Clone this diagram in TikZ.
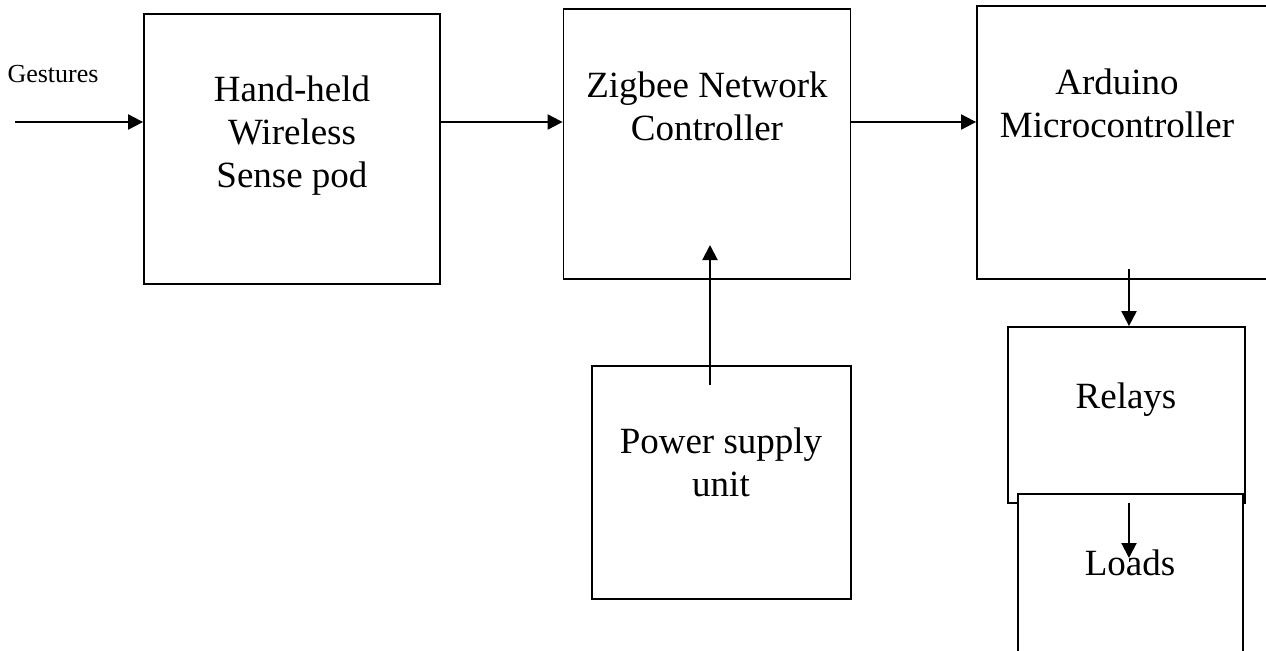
\documentclass[tikz,border=0pt]{standalone}
\usepackage{fontspec}
\setmainfont{Liberation Serif}
\usetikzlibrary{arrows.meta, positioning}

\begin{document}
\begin{tikzpicture}[x=0.5pt, y=-0.5pt, >={Triangle[length=7.5pt, width=7.5pt]},
    box/.style={draw, line width=0.9pt, fill=white},
    lbl/.style={inner sep=0pt, align=center, font=\fontsize{18.5}{21.5}\selectfont},
    arr/.style={->, line width=1pt}]
        \useasboundingbox (0,0) rectangle (1266,650);

        % Blocks
        \node[box, minimum width=148pt, minimum height=135pt] (hand) at (292,149) {};
        \node[box, minimum width=143.5pt, minimum height=134.75pt] (zig) at (707,144) {};
        \node[box, minimum width=145.5pt, minimum height=136.5pt] (ard) at (1122.5,142.5) {};
        \node[box, minimum width=129.5pt, minimum height=116.5pt] (psu) at (721.5,482.5) {};
        \node[box, minimum width=118.5pt, minimum height=88pt] (relay) at (1126.5,415) {};
        \node[box, minimum width=112.5pt, minimum height=83pt] (load) at (1130.5,577) {};

        % Block labels
        \node[lbl] (handtxt) at (292,136) {Hand-held\\Wireless\\Sense pod};
        \node[lbl] (zigtxt) at (707,106) {Zigbee Network\\Controller};
        \node[lbl] (ardtxt) at (1117,103) {Arduino\\Microcontroller};
        \node[lbl] (psutxt) at (721,462.5) {Power supply\\unit};
        \node[lbl] (relaytxt) at (1126,399.5) {Relays};
        \node[lbl] (loadtxt) at (1130,562.5) {Loads};
        \node[inner sep=0pt, font=\fontsize{13}{15}\selectfont] (gest) at (53,74) {Gestures};

        % Signal path
        \coordinate (gin) at (15,122);
        \draw[arr] (gin) -- (gin -| hand.west);
        \draw[arr] (hand.east |- gin) -- (zig.west |- gin);
        \draw[arr] (zig.east |- gin) -- (ard.west |- gin);

        % Power feed
        \coordinate (pfrom) at (710,385);
        \coordinate (pto) at (710,245);
        \draw[arr] (pfrom) -- (pto);

        % Outputs
        \coordinate (aout) at (1129,269);
        \draw[arr] (aout) -- (aout |- relay.north);
        \coordinate (rout) at (1129,503);
        \coordinate (lin) at (1129,558);
        \draw[arr] (rout) -- (lin);
\end{tikzpicture}
\end{document}
